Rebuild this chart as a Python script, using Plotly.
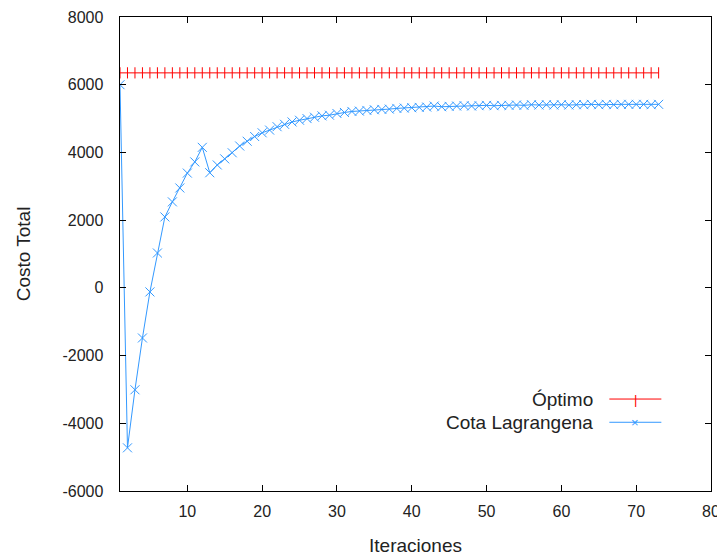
import plotly.graph_objects as go

# ---- data ----
iterations = list(range(1, 74))
optimo_value = 6350
optimo = [optimo_value] * len(iterations)
cota = [
    6000, -4725, -3010, -1480, -120, 1030, 2095, 2540, 2950, 3390,
    3720, 4150, 3400, 3630, 3810, 3990, 4190, 4330, 4470, 4580,
    4660, 4760, 4830, 4900, 4950, 5000, 5040, 5080, 5100, 5150,
    5180, 5210, 5220, 5240, 5260, 5270, 5280, 5300, 5310, 5320,
    5330, 5340, 5370, 5350, 5360, 5370, 5380, 5370, 5380, 5390,
    5380, 5390, 5390, 5400, 5390, 5410, 5400, 5410, 5400, 5410,
    5400, 5410, 5410, 5420, 5410, 5420, 5410, 5420, 5420, 5420,
    5420, 5410, 5420,
]
series_names = ["Óptimo", "Cota Lagrangena"]
x_ticks = [10, 20, 30, 40, 50, 60, 70, 80]
y_ticks = [-6000, -4000, -2000, 0, 2000, 4000, 6000, 8000]
x_title = "Iteraciones"
y_title = "Costo Total"

RED = "#ff0000"
BLUE = "#3399ff"
FONT = "Liberation Sans"
TXT = "#222222"

fig = go.Figure()
fig.add_trace(go.Scatter(
    x=iterations, y=optimo, mode="lines+markers", name=series_names[0],
    line=dict(color=RED, width=1),
    marker=dict(symbol="line-ns-open", size=8, line=dict(color=RED, width=1)),
    showlegend=False,
))
fig.add_trace(go.Scatter(
    x=iterations, y=cota, mode="lines+markers", name=series_names[1],
    line=dict(color=BLUE, width=1),
    marker=dict(symbol="x-thin-open", size=9, line=dict(color=BLUE, width=1)),
    showlegend=False,
))

# manual gnuplot-style legend (text left of sample)
legend_y = [0.194, 0.145]
colors = [RED, BLUE]
symbols = ["|", "×"]
for name, yy, c, s in zip(series_names, legend_y, colors, symbols):
    fig.add_annotation(xref="paper", yref="paper", x=0.804, y=yy, text=name,
                       showarrow=False, xanchor="right", yanchor="middle",
                       font=dict(family=FONT, size=19, color=TXT))
    fig.add_shape(type="line", xref="paper", yref="paper",
                  x0=0.828, x1=0.916, y0=yy, y1=yy, line=dict(color=c, width=1))
    fig.add_annotation(xref="paper", yref="paper", x=0.872, y=yy, text=s,
                       showarrow=False, xanchor="center", yanchor="middle",
                       font=dict(family=FONT, size=13, color=c))

axis_common = dict(
    showline=True, linecolor="black", linewidth=1, mirror="allticks",
    ticks="inside", ticklen=6, tickcolor="black", showgrid=False,
    zeroline=False, automargin=False,
    tickfont=dict(family=FONT, size=16, color=TXT),
)
fig.update_xaxes(range=[1, 80], tickvals=x_ticks, ticktext=[str(v) for v in x_ticks],
                 ticklabelstandoff=6,
                 title=dict(text=x_title, standoff=19,
                            font=dict(family=FONT, size=19, color=TXT)), **axis_common)
fig.update_yaxes(range=[-6000, 8000], tickvals=y_ticks,
                 ticktext=[f"{v}\u00a0" for v in y_ticks],
                 ticklabelstandoff=8,
                 title=dict(text=y_title, standoff=26,
                            font=dict(family=FONT, size=19, color=TXT)), **axis_common)

fig.update_layout(
    width=717, height=548,
    margin=dict(l=112, r=14, t=9, b=65),
    paper_bgcolor="white", plot_bgcolor="white",
    font=dict(family=FONT, size=16),
)
fig.write_html("out.html")
